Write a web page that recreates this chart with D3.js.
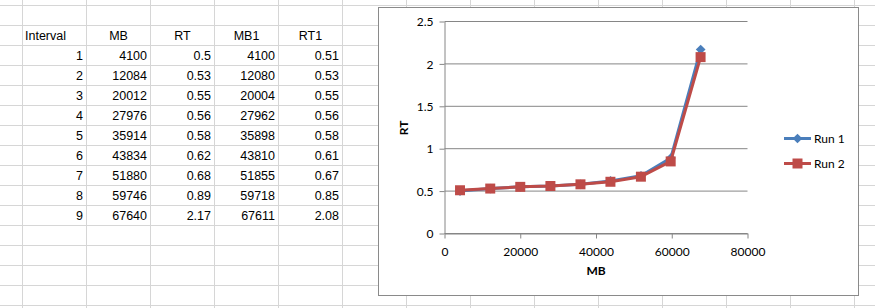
<!DOCTYPE html>
<html>
<head>
<meta charset="utf-8">
<script src="https://cdn.jsdelivr.net/npm/d3@7"></script>
<style>
html,body{margin:0;padding:0;background:#fff;}
svg{display:block;}
</style>
</head>
<body>
<svg id="c" width="875" height="308"></svg>
<script>
// ---- data ----
const intervals = [1,2,3,4,5,6,7,8,9];
const mb  = [4100,12084,20012,27976,35914,43834,51880,59746,67640];
const rt  = [0.5,0.53,0.55,0.56,0.58,0.62,0.68,0.89,2.17];
const mb1 = [4100,12080,20004,27962,35898,43810,51855,59718,67611];
const rt1 = [0.51,0.53,0.55,0.56,0.58,0.61,0.67,0.85,2.08];
const headers = ["Interval","MB","RT","MB1","RT1"];
const seriesNames = ["Run 1","Run 2"];
const xTicks = [0,20000,40000,60000,80000];
const yTicks = [0,0.5,1,1.5,2,2.5];

const svg = d3.select("#c");
const W = 875, H = 308;

// ---- spreadsheet grid ----
const colX = d3.range(0,14).map(i => 22.5 + 64*i);
const rowY = d3.range(0,16).map(i => 5.5 + 20*i);
const grid = svg.append("g").attr("stroke","#d6d6d6").attr("stroke-width",1);
colX.forEach(x => grid.append("line").attr("x1",x).attr("x2",x).attr("y1",0).attr("y2",H));
rowY.forEach(y => grid.append("line").attr("x1",0).attr("x2",W).attr("y1",y).attr("y2",y));

// ---- table ----
const tf = "'Liberation Sans', Arial, sans-serif";
const table = svg.append("g").attr("font-family",tf).attr("font-size","12.5px").attr("fill","#000");
headers.forEach((h,i) => {
  const t = table.append("text").attr("y", 40).text(h);
  if (i === 0) t.attr("x", 25);
  else t.attr("x", colX[i] + 32).attr("text-anchor","middle");
});
const cols = [intervals, mb, rt, mb1, rt1];
intervals.forEach((_, r) => {
  cols.forEach((arr, c) => {
    table.append("text")
      .attr("x", colX[c+1] - 3.5)
      .attr("y", 60 + 20*r)
      .attr("text-anchor","end")
      .text(String(arr[r]));
  });
});

// ---- chart ----
const cf = "Lato, 'Open Sans', sans-serif";
svg.append("rect").attr("x",378.5).attr("y",7.5).attr("width",480).attr("height",288)
  .attr("fill","#fff").attr("stroke","#8a8a8a").attr("stroke-width",1);

const x = d3.scaleLinear().domain([0,80000]).range([444.5,747.5]);
const y = d3.scaleLinear().domain([0,2.5]).range([233.5,21.5]);

const gridG = svg.append("g").attr("stroke","#868686").attr("stroke-width",1);
yTicks.forEach(v => gridG.append("line").attr("x1",x(0)).attr("x2",x(80000)).attr("y1",y(v)).attr("y2",y(v)));

const xAxis = svg.append("g").attr("transform",`translate(0,${y(0)})`)
  .call(d3.axisBottom(x).tickValues(xTicks).tickFormat(d3.format("d")).tickSizeInner(5).tickSizeOuter(0));
const yAxis = svg.append("g").attr("transform",`translate(${x(0)},0)`)
  .call(d3.axisLeft(y).tickValues(yTicks).tickFormat(d => String(d)).tickSizeInner(5).tickSizeOuter(0));
[xAxis,yAxis].forEach(a => {
  a.select(".domain").attr("stroke","#868686");
  a.selectAll(".tick line").attr("stroke","#868686");
  a.selectAll("text").attr("font-family",cf).attr("font-size","12px").attr("fill","#000");
});
xAxis.selectAll("text").attr("dy","0").attr("y",22);
yAxis.selectAll("text").attr("x",-11).attr("dy","0.35em");

svg.append("text").attr("x",596).attr("y",275).attr("text-anchor","middle")
  .attr("font-family",cf).attr("font-size","12px").attr("font-weight","bold").text("MB");
svg.append("text").attr("transform","translate(408,128) rotate(-90)").attr("text-anchor","middle")
  .attr("font-family",cf).attr("font-size","12px").attr("font-weight","bold").text("RT");

const colors = ["#4A7EBB","#BE4B48"];
const data = [mb.map((m,i)=>[m,rt[i]]), mb1.map((m,i)=>[m,rt1[i]])];
const line = d3.line().x(d=>x(d[0])).y(d=>y(d[1]));
const diamond = d3.symbol().type(d3.symbolDiamond2).size(60);
const square = d3.symbol().type(d3.symbolSquare).size(100);
const symbols = [diamond, square];

data.forEach((s,k) => {
  svg.append("path").datum(s).attr("d",line).attr("fill","none")
    .attr("stroke",colors[k]).attr("stroke-width",3).attr("stroke-linejoin","round");
  svg.append("g").selectAll("path").data(s).join("path")
    .attr("transform",d=>`translate(${x(d[0])},${y(d[1])})`)
    .attr("d",symbols[k]()).attr("fill",colors[k]);
});

// ---- legend ----
seriesNames.forEach((n,k) => {
  const ly = 138.5 + 25*k;
  const g = svg.append("g");
  g.append("line").attr("x1",784).attr("x2",811).attr("y1",ly).attr("y2",ly)
    .attr("stroke",colors[k]).attr("stroke-width",3);
  g.append("path").attr("transform",`translate(797.5,${ly})`).attr("d",symbols[k]()).attr("fill",colors[k]);
  g.append("text").attr("x",814).attr("y",ly).attr("dy","0.35em")
    .attr("font-family",cf).attr("font-size","12px").attr("fill","#000").text(n);
});
</script>
</body>
</html>
